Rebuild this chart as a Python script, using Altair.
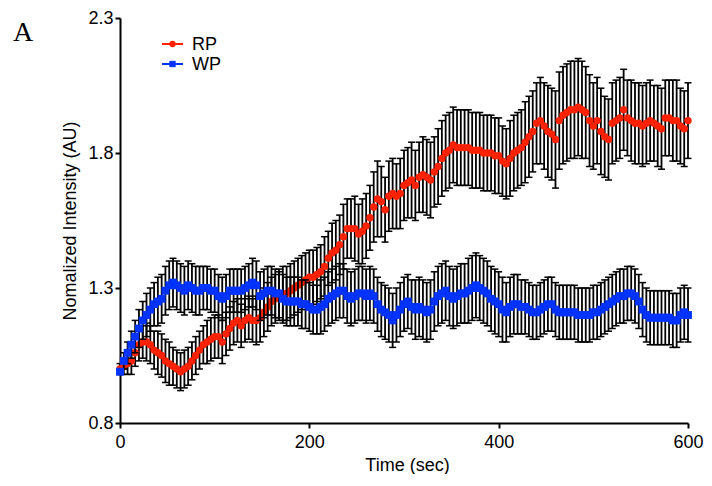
import altair as alt
import pandas as pd

# ---------------- data ----------------
times = list(range(0, 601, 4))

rp_mean = [
    1.00, 1.01, 1.02, 1.03, 1.06, 1.09, 1.10, 1.10, 1.09, 1.07,
    1.06, 1.05, 1.03, 1.02, 1.01, 1.00, 0.99, 1.00, 1.01, 1.03,
    1.05, 1.07, 1.09, 1.10, 1.11, 1.12, 1.12, 1.10, 1.13, 1.15,
    1.17, 1.18, 1.16, 1.18, 1.19, 1.18, 1.18, 1.19, 1.21, 1.23,
    1.25, 1.26, 1.27, 1.28, 1.28, 1.29, 1.30, 1.31, 1.32, 1.33,
    1.34, 1.34, 1.35, 1.36, 1.38, 1.41, 1.43, 1.44, 1.46, 1.49,
    1.52, 1.52, 1.52, 1.50, 1.51, 1.53, 1.56, 1.60, 1.63, 1.62,
    1.59, 1.64, 1.65, 1.64, 1.65, 1.68, 1.69, 1.70, 1.68, 1.71,
    1.72, 1.71, 1.70, 1.73, 1.75, 1.78, 1.80, 1.81, 1.83, 1.82,
    1.82, 1.82, 1.82, 1.81, 1.81, 1.81, 1.80, 1.80, 1.80, 1.79,
    1.79, 1.77, 1.76, 1.78, 1.80, 1.81, 1.82, 1.84, 1.86, 1.88,
    1.91, 1.92, 1.90, 1.88, 1.87, 1.85, 1.92, 1.94, 1.95, 1.96,
    1.96, 1.97, 1.96, 1.95, 1.92, 1.90, 1.92, 1.88, 1.86, 1.85,
    1.91, 1.92, 1.93, 1.96, 1.93, 1.92, 1.91, 1.91, 1.90, 1.91,
    1.92, 1.91, 1.90, 1.89, 1.93, 1.93, 1.92, 1.92, 1.90, 1.89,
    1.92,
]

rp_sem = [
    0.02, 0.03, 0.04, 0.05, 0.05,
    0.06, 0.06, 0.07, 0.07, 0.07, 0.08, 0.08, 0.08, 0.08, 0.07, 0.07,
    0.07, 0.07, 0.07, 0.07, 0.07, 0.07, 0.07, 0.08, 0.08, 0.08, 0.08,
    0.08, 0.08, 0.08, 0.08, 0.08, 0.08, 0.08, 0.08, 0.08, 0.09, 0.09,
    0.09, 0.09, 0.09, 0.09, 0.09, 0.10, 0.10, 0.10, 0.10, 0.10, 0.10,
    0.10, 0.10,
    0.10, 0.10, 0.10, 0.11, 0.10, 0.11, 0.11, 0.11, 0.12, 0.11, 0.11,
    0.12, 0.11, 0.12, 0.12,
    0.12, 0.13, 0.14, 0.13, 0.12, 0.13, 0.13, 0.12, 0.13, 0.13, 0.13,
    0.14, 0.13, 0.13, 0.14, 0.14, 0.14, 0.13, 0.14, 0.14, 0.14, 0.14,
    0.14, 0.14, 0.14, 0.14, 0.14, 0.14, 0.14, 0.14, 0.14, 0.14, 0.14,
    0.14, 0.14, 0.13, 0.13, 0.14, 0.14, 0.14, 0.14, 0.15, 0.15, 0.15,
    0.15, 0.16, 0.16,
    0.17, 0.17, 0.18, 0.18, 0.18, 0.18, 0.18, 0.18, 0.18, 0.18, 0.17,
    0.17, 0.16, 0.16, 0.16, 0.15, 0.15, 0.15, 0.15, 0.15, 0.15, 0.14,
    0.15, 0.15, 0.15,
    0.15, 0.15, 0.15, 0.14, 0.15, 0.15, 0.14, 0.14, 0.15, 0.15, 0.14,
    0.14, 0.14,
]

wp_mean = [
    0.99, 1.03, 1.06, 1.09, 1.12, 1.15, 1.18, 1.20, 1.22, 1.24,
    1.25, 1.26, 1.29, 1.31, 1.32, 1.31, 1.30, 1.29, 1.31, 1.30,
    1.29, 1.29, 1.30, 1.30, 1.29, 1.29, 1.27, 1.26, 1.27, 1.29,
    1.29, 1.29, 1.29, 1.30, 1.31, 1.32, 1.31, 1.27, 1.28, 1.29,
    1.29, 1.28, 1.28, 1.26, 1.25, 1.25, 1.25, 1.25, 1.24, 1.24,
    1.23, 1.22, 1.22, 1.23, 1.24, 1.26, 1.27, 1.28, 1.29, 1.29,
    1.27, 1.26, 1.27, 1.28, 1.28, 1.27, 1.28, 1.27, 1.24, 1.22,
    1.21, 1.20, 1.18, 1.20, 1.22, 1.24, 1.25, 1.23, 1.22, 1.23,
    1.22, 1.21, 1.22, 1.25, 1.27, 1.28, 1.29, 1.27, 1.26, 1.27,
    1.28, 1.28, 1.29, 1.30, 1.31, 1.30, 1.29, 1.28, 1.26, 1.25,
    1.24, 1.22, 1.21, 1.23, 1.24, 1.24, 1.23, 1.23, 1.22, 1.21,
    1.21, 1.22, 1.23, 1.24, 1.24, 1.22, 1.21, 1.21, 1.21, 1.21,
    1.21, 1.20, 1.20, 1.20, 1.20, 1.21, 1.21, 1.22, 1.23, 1.24,
    1.25, 1.26, 1.27, 1.27, 1.28, 1.28, 1.27, 1.25, 1.22, 1.20,
    1.19, 1.19, 1.19, 1.19, 1.19, 1.19, 1.18, 1.18, 1.20, 1.21,
    1.20,
]

wp_sem = [
    0.01, 0.03, 0.04, 0.05, 0.06,
    0.07, 0.07, 0.08, 0.08, 0.08, 0.09, 0.09, 0.09, 0.09, 0.09, 0.09,
    0.09, 0.09, 0.09, 0.09, 0.09, 0.09, 0.08, 0.08, 0.08, 0.08, 0.08,
    0.08, 0.08, 0.08, 0.08, 0.08, 0.08, 0.08, 0.08, 0.09, 0.09, 0.09,
    0.09, 0.09, 0.09, 0.09, 0.09, 0.09, 0.09, 0.09, 0.09, 0.09, 0.09,
    0.09, 0.09,
    0.09, 0.09, 0.10, 0.10, 0.10, 0.10, 0.10, 0.10, 0.10, 0.10, 0.10,
    0.10, 0.10, 0.10, 0.10,
    0.10, 0.10, 0.10, 0.10, 0.10, 0.10, 0.10, 0.10, 0.10, 0.10, 0.10,
    0.10, 0.11, 0.11, 0.11, 0.11, 0.11, 0.11, 0.11, 0.11, 0.11, 0.11,
    0.11, 0.11, 0.11, 0.11, 0.12, 0.12, 0.12, 0.12, 0.12, 0.12, 0.12,
    0.12, 0.12, 0.12, 0.11, 0.11, 0.11, 0.11, 0.10, 0.10, 0.10, 0.10,
    0.10, 0.10, 0.10,
    0.10, 0.10, 0.10, 0.10, 0.10, 0.10, 0.10, 0.10, 0.10, 0.10, 0.10,
    0.10, 0.10, 0.10, 0.10, 0.10, 0.10, 0.10, 0.10, 0.10, 0.10, 0.10,
    0.10, 0.10, 0.10,
    0.10, 0.10, 0.10, 0.10, 0.10, 0.10, 0.10, 0.10, 0.10, 0.10, 0.10,
    0.10, 0.10,
]

series_names = ["RP", "WP"]
series_colors = ["#FF2200", "#0033FF"]
x_ticks = [0, 200, 400, 600]
y_ticks = [0.8, 1.3, 1.8, 2.3]
panel_label = "A"
x_title = "Time (sec)"
y_title = "Nomalized Intensity (AU)"


def frame(name, mean, sem):
    return pd.DataFrame({
        "t": times,
        "v": mean,
        "lo": [m - s for m, s in zip(mean, sem)],
        "hi": [m + s for m, s in zip(mean, sem)],
        "series": name,
    })


rp_df = frame(series_names[0], rp_mean, rp_sem)
wp_df = frame(series_names[1], wp_mean, wp_sem)

W, H = 568, 405
FONT = "Liberation Sans"

x_axis = alt.Axis(values=x_ticks, title=x_title, grid=False, labelFlush=False,
                  labelOverlap=False, format="d", domainColor="black",
                  domainWidth=2, tickColor="black", tickWidth=2, tickSize=5,
                  labelFont=FONT, labelFontSize=18, labelColor="black",
                  labelPadding=5, titleFont=FONT, titleFontSize=18,
                  titleFontWeight="normal", titleColor="black",
                  titleX=W / 2 + 3, titleY=47, titleBaseline="alphabetic")
y_axis = alt.Axis(values=y_ticks, title=y_title, grid=False, format=".1f",
                  labelOverlap=False, domainColor="black", domainWidth=2,
                  tickColor="black", tickWidth=2, tickSize=5,
                  labelFont=FONT, labelFontSize=18, labelColor="black",
                  labelPadding=2, titleFont=FONT, titleFontSize=18,
                  titleFontWeight="normal", titleColor="black",
                  titleX=-50, titleY=H / 2, titleBaseline="middle",
                  titleAngle=270)
x_scale = alt.Scale(domain=[0, 600], nice=False, zero=False)
y_scale = alt.Scale(domain=[0.8, 2.3], nice=False, zero=False)


def X(field):
    return alt.X(field, type="quantitative", scale=x_scale, axis=x_axis)


def Y(field):
    return alt.Y(field, type="quantitative", scale=y_scale, axis=y_axis)


def series_layers(df, color, shape, size):
    base = alt.Chart(df)
    bars = base.mark_rule(color="black", strokeWidth=1.8).encode(
        x=X("t"), y=Y("lo"), y2="hi")
    cap_lo = base.mark_tick(color="black", orient="horizontal", size=7,
                            thickness=1.5, opacity=1).encode(x=X("t"), y=Y("lo"))
    cap_hi = base.mark_tick(color="black", orient="horizontal", size=7,
                            thickness=1.5, opacity=1).encode(x=X("t"), y=Y("hi"))
    pts = base.mark_point(filled=True, shape=shape, size=size, color=color,
                          opacity=1, strokeWidth=0).encode(x=X("t"), y=Y("v"))
    return [bars, cap_lo, cap_hi, pts]


layers = []
layers += series_layers(rp_df, series_colors[0], "circle", 55)
layers += series_layers(wp_df, series_colors[1], "square", 62)

# legend (drawn like GraphPad's: line + marker + label)
legend_df = pd.DataFrame({"label": series_names, "color": series_colors})
legend_shapes = ["circle", "square"]
legend_y = [26, 46]
for i in range(2):
    d = alt.Chart(legend_df.iloc[[i]])
    layers.append(d.mark_rule(color=series_colors[i], strokeWidth=2).encode(
        x=alt.value(42), x2=alt.value(63), y=alt.value(legend_y[i])))
    layers.append(d.mark_point(filled=True, shape=legend_shapes[i], size=40,
                               color=series_colors[i], opacity=1).encode(
        x=alt.value(52.5), y=alt.value(legend_y[i])))
    layers.append(d.mark_text(font=FONT, fontSize=18, align="left",
                              baseline="middle", color="black").encode(
        x=alt.value(72), y=alt.value(legend_y[i] + 1), text="label:N"))

# panel letter
layers.append(alt.Chart(pd.DataFrame({"label": [panel_label]})).mark_text(
    font="Liberation Serif", fontSize=28, align="left",
    baseline="alphabetic", color="black").encode(
    x=alt.value(-107), y=alt.value(23), text="label:N"))

chart = alt.layer(*layers).properties(
    width=W, height=H,
    padding={"left": 112, "top": 10, "right": 16, "bottom": 51},
    autosize=alt.AutoSizeParams(type="none"),
).configure_view(stroke=None)

chart.save("out.html", embed_options={"renderer": "svg", "actions": False})
